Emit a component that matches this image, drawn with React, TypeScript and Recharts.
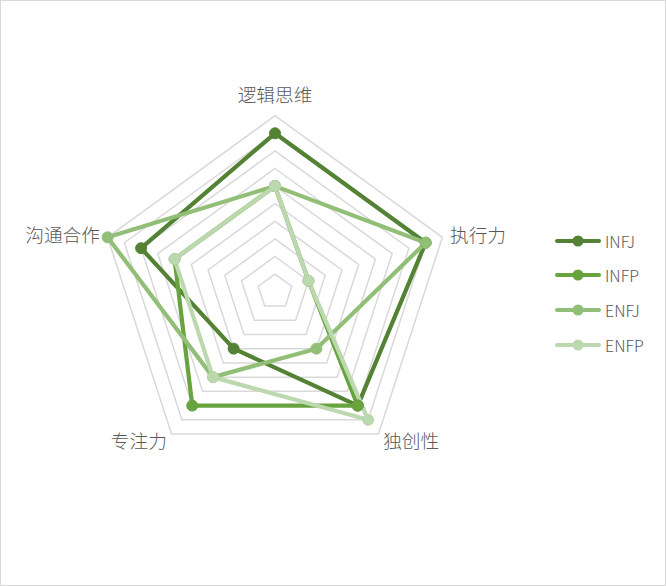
import React from 'react';
import { RadarChart, Radar, PolarGrid, PolarAngleAxis, PolarRadiusAxis, Legend } from 'recharts';

const categories = ['逻辑思维', '执行力', '独创性', '专注力', '沟通合作'];
const seriesNames = ['INFJ', 'INFP', 'ENFJ', 'ENFP'];
const infjValues = [90, 90, 80, 40, 80];
const infpValues = [60, 20, 80, 80, 60];
const enfjValues = [60, 90, 40, 60, 100];
const enfpValues = [60, 20, 90, 60, 60];
const radiusTicks = [0, 10, 20, 30, 40, 50, 60, 70, 80, 90, 100];
const seriesColors = ['#548235', '#68a33f', '#92bf77', '#bcd8ae'];

const seriesValues = [infjValues, infpValues, enfjValues, enfpValues];
const data = categories.map((c, i) => {
  const row: Record<string, string | number> = { category: c };
  seriesNames.forEach((s, k) => {
    row[s] = seriesValues[k][i];
  });
  return row;
});

const FONT = '"Noto Sans CJK SC", "Noto Sans", sans-serif';

const AngleTick = (props: any) => {
  const { x, y, payload, textAnchor } = props;
  const isTop = textAnchor === 'middle';
  return (
    <text
      x={x}
      y={isTop ? y - 14 : y - 1}
      textAnchor={textAnchor}
      dominantBaseline="central"
      fill="#595959"
      fontSize={18.7}
      fontWeight={300}
      fontFamily={FONT}
    >
      {payload.value}
    </text>
  );
};

const LegendContent = () => (
  <div style={{ fontFamily: FONT }}>
    {seriesNames.map((name, k) => (
      <div key={name} style={{ height: 34.8, display: 'flex', alignItems: 'center' }}>
        <svg width={48} height={14} style={{ display: 'block' }}>
          <line x1={3} y1={7} x2={45} y2={7} stroke={seriesColors[k]} strokeWidth={4} strokeLinecap="round" />
          <circle cx={24} cy={7} r={5.5} fill={seriesColors[k]} />
        </svg>
        <span style={{ fontSize: 16, fontWeight: 300, color: '#595959', marginLeft: 3, lineHeight: '16px' }}>{name}</span>
      </div>
    ))}
  </div>
);

export default function App() {
  return (
    <div
      style={{
        position: 'absolute',
        left: 0,
        top: 0,
        width: 666,
        height: 586,
        background: '#ffffff',
        boxShadow: 'inset 0 0 0 1px #d9d9d9',
        fontFamily: FONT,
      }}
    >
      <RadarChart
        width={666}
        height={586}
        data={data}
        cx={275}
        cy={291.7}
        outerRadius={176}
        margin={{ top: 0, right: 0, bottom: 0, left: 0 }}
      >
        <PolarGrid gridType="polygon" radialLines={false} stroke="#d9d9d9" strokeWidth={1.5} />
        <PolarAngleAxis dataKey="category" tick={<AngleTick />} tickLine={false} axisLine={false} />
        <PolarRadiusAxis
          domain={[0, 100]}
          ticks={radiusTicks as any}
          tickCount={11}
          tick={false}
          axisLine={false}
          tickLine={false}
        />
        {seriesNames.map((name, k) => (
          <Radar
            key={name}
            name={name}
            dataKey={name}
            stroke={seriesColors[k]}
            strokeWidth={4.2}
            strokeLinejoin="round"
            fill="none"
            fillOpacity={0}
            dot={{ r: 5.5, fill: seriesColors[k], stroke: seriesColors[k], strokeWidth: 1, fillOpacity: 1 }}
            isAnimationActive={false}
          />
        ))}
        <Legend
          layout="vertical"
          align="right"
          verticalAlign="top"
          content={<LegendContent />}
          wrapperStyle={{ position: 'absolute', left: 554, top: 223.3, width: 110 }}
        />
      </RadarChart>
    </div>
  );
}
